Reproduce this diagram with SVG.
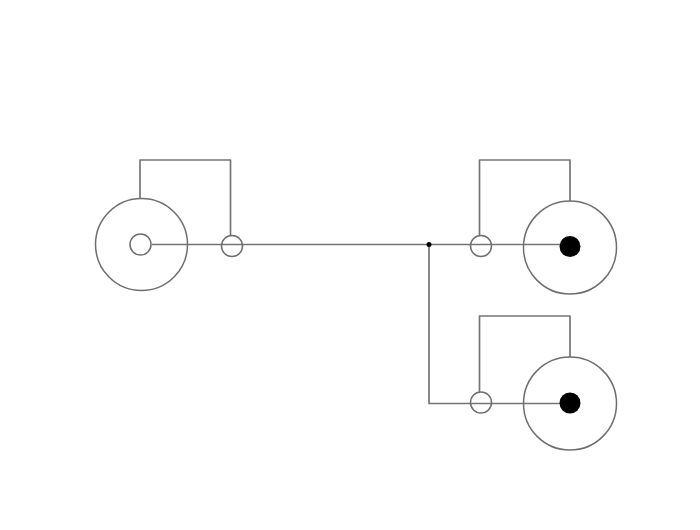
<svg xmlns="http://www.w3.org/2000/svg" width="700" height="530" viewBox="0 0 700 530">
<style>
.w{fill:none;stroke:#757575;stroke-width:1.7;stroke-linejoin:round}
.c{fill:none;stroke:#6e6e6e;stroke-width:1.5}
.k{fill:#000;stroke:none}
</style>
<rect width="700" height="530" fill="#fff"/>
<g id="connectors">
<path class="w" d="M152 244.500H560"/>
<path class="w" d="M140 198V160H230.500V236"/>
<path class="w" d="M479.500 235V160H570V201"/>
<path class="w" d="M429 245V403.500H560"/>
<path class="w" d="M479.500 392V316H570V357"/>
<circle class="k" cx="429" cy="244.500" r="2.500"/>
</g>
<g id="jack-left"><circle class="c" cx="141.500" cy="244.500" r="46"/><circle class="c" cx="140.500" cy="244.500" r="10.500"/></g>
<g id="ring-left"><circle class="c" cx="232" cy="246" r="10.500"/></g>
<g id="ring-top"><circle class="c" cx="481" cy="246" r="10.500"/></g>
<g id="jack-top"><circle class="c" cx="570" cy="247.500" r="46.500"/><circle class="k" cx="570" cy="246.500" r="10.500"/></g>
<g id="ring-bottom"><circle class="c" cx="481" cy="402.500" r="10.500"/></g>
<g id="jack-bottom"><circle class="c" cx="570" cy="403.500" r="46.500"/><circle class="k" cx="570" cy="403" r="10.500"/></g>
</svg>
